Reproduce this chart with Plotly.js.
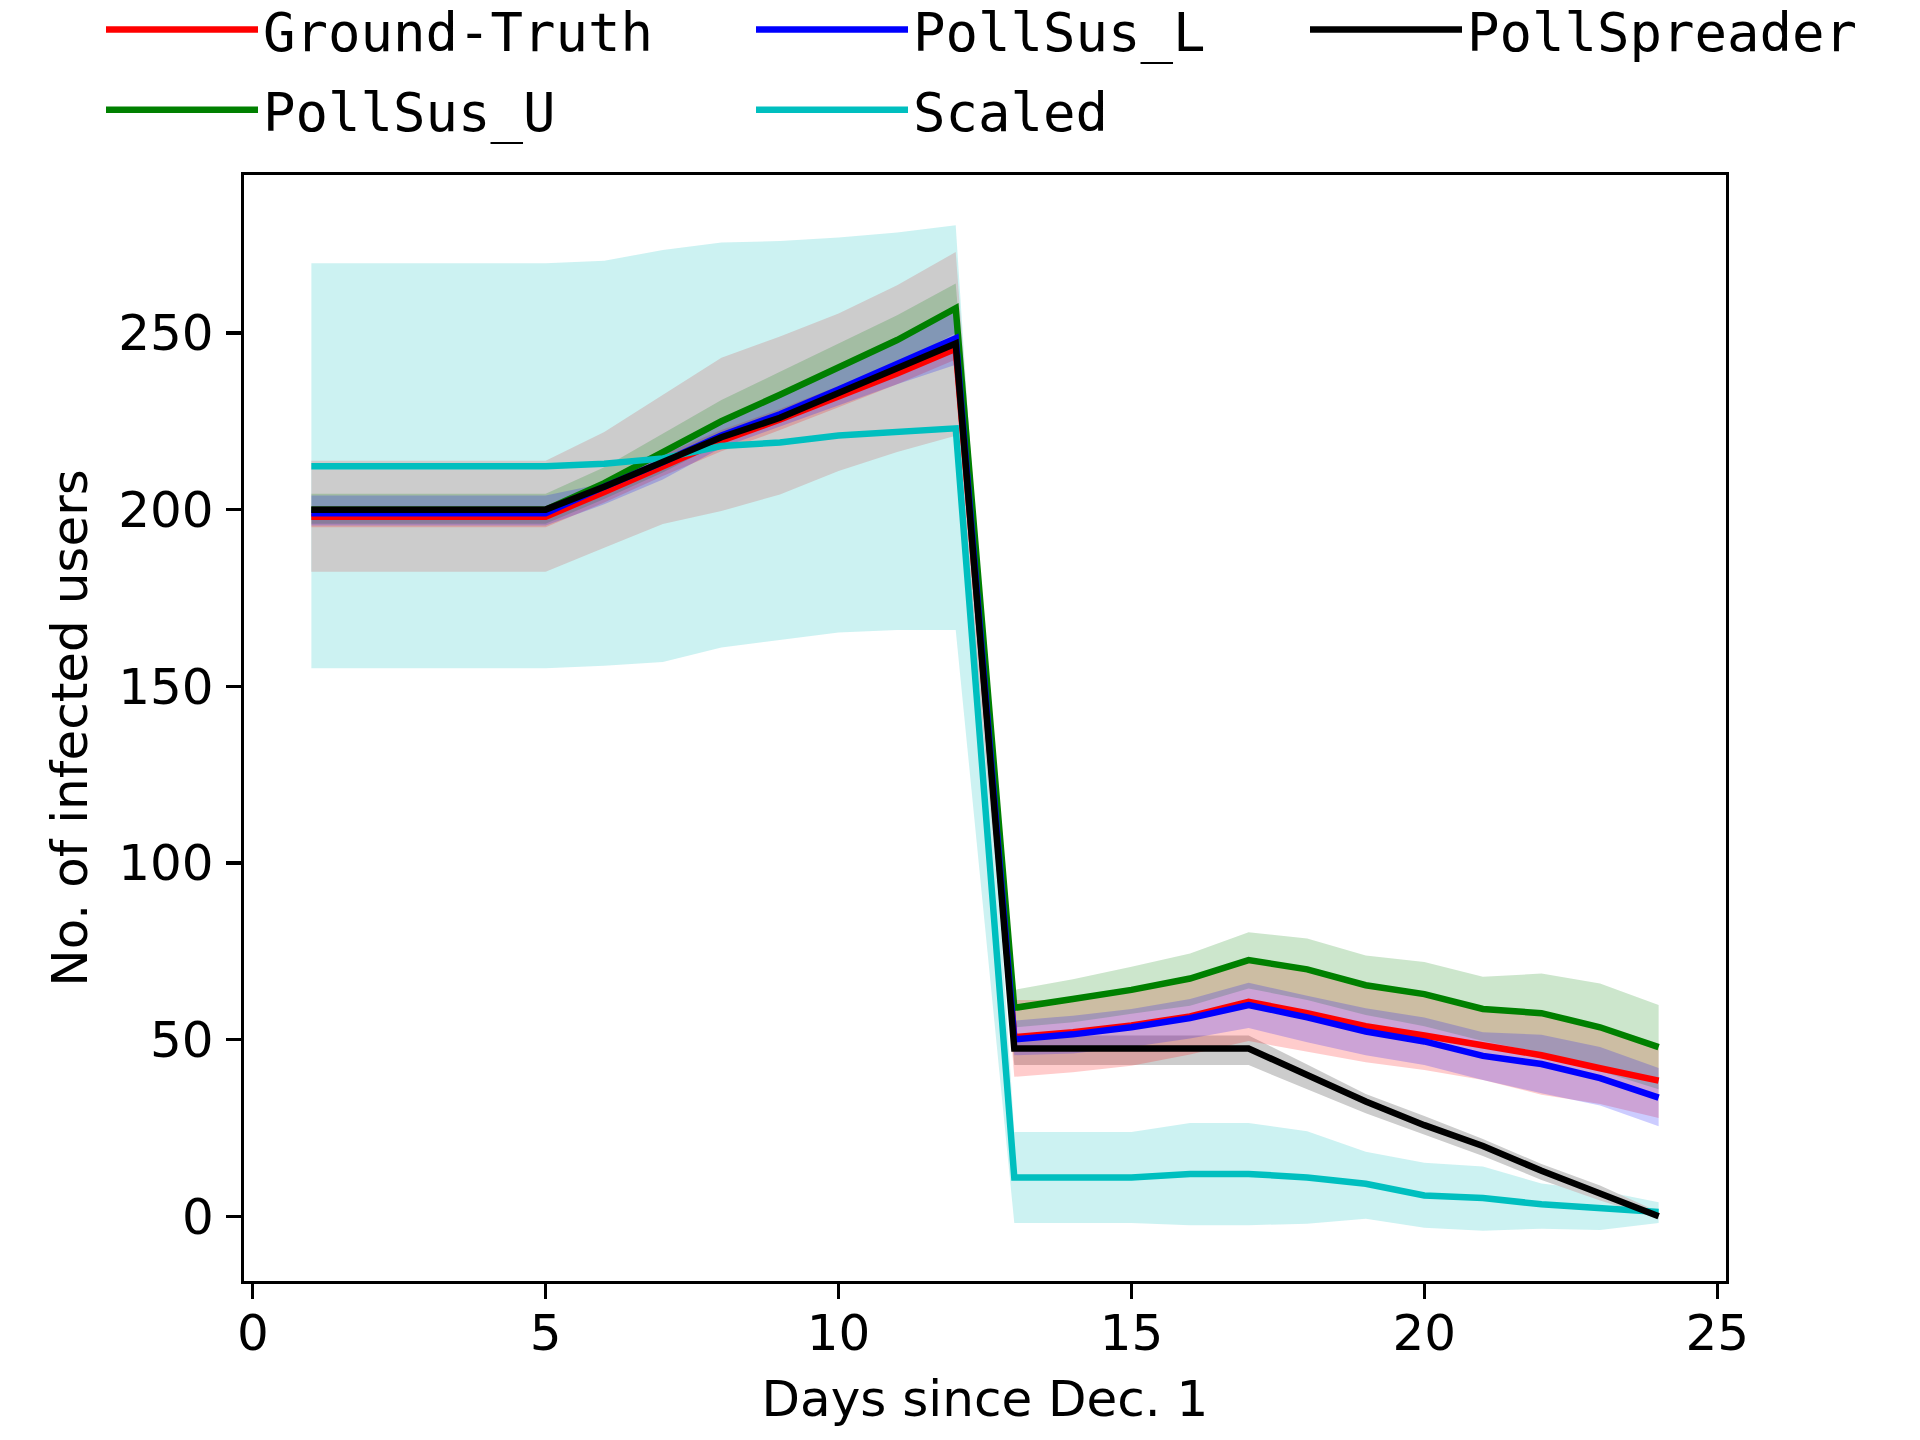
<!DOCTYPE html>
<html>
<head>
<meta charset="utf-8">
<script src="https://cdn.plot.ly/plotly-3.0.1.min.js"></script>
<style>html,body{margin:0;padding:0;background:#fff;}#chart{width:1920px;height:1440px;}</style>
</head>
<body>
<div id="chart"></div>
<script>
var days = [1,2,3,4,5,6,7,8,9,10,11,12,13,14,15,16,17,18,19,20,21,22,23,24];

var groundTruth    = [198,198,198,198,198,205,212.5,219.5,225.5,232,238.5,245.5, 50.7,52.1,54.0,56.6,60.7,57.5,53.8,51.2,48.6,45.6,41.9,38.4];
var groundTruthUp  = [201,201,201,201,201,208,215.5,222.5,228.5,235,241.5,248.5, 61.2,61.2,63.8,67.0,72.2,69.6,65.1,62.6,58.4,57.2,53.2,47.6];
var groundTruthLow = [195,195,195,195,195,202,209.5,216.5,222.5,229,235.5,242.5, 39.5,40.8,42.6,45.8,49.6,46.5,43.6,41.4,38.6,34.4,31.8,27.8];

var pollSusU    = [200,200,200,200,200,207.5,216,225,232.5,240.5,248,257, 59.0,61.5,64.1,67.3,72.5,69.9,65.4,62.9,58.7,57.5,53.5,47.9];
var pollSusUUp  = [204.5,204.5,204.5,204.5,204.5,212,221.5,231,239,247,255,264, 64.1,67.1,70.6,74.4,80.4,78.6,73.8,72.0,67.8,68.7,65.9,59.8];
var pollSusULow = [196,196,196,196,196,203,210.5,219,226,234,241,250, 53.5,54.9,57.3,59.6,64.5,61.2,57.0,53.8,49.6,46.3,41.1,36.0];

var pollSusL    = [199,199,199,199,199,206.5,213.5,221,227,234,241,248.5, 50.1,51.5,53.5,56.1,59.8,56.3,52.3,49.5,45.4,43.1,39.1,33.6];
var pollSusLUp  = [204,204,204,204,204,207.5,216,225,232,240,247.5,256, 55.4,56.8,58.7,61.5,66.1,62.4,58.9,56.3,52.1,51.4,47.9,42.0];
var pollSusLLow = [195.5,195.5,195.5,195.5,195.5,201.5,208.5,217.5,223.5,229.5,235.5,241, 45.6,46.1,47.9,50.3,53.3,49.3,45.6,42.8,38.6,34.8,31.4,25.5];

var scaled    = [212.3,212.3,212.3,212.3,212.3,213,214.5,218,219,221,222,223, 11.0,11.0,11.0,12.0,12.0,11.0,9.2,5.9,5.2,3.4,2.1,1.2];
var scaledUp  = [269.7,269.7,269.7,269.7,269.7,270.4,273.5,275.6,276,277,278.4,280.5, 23.9,23.9,23.9,26.4,26.4,24.1,18.3,15.2,14.1,9.3,7.3,4.0];
var scaledLow = [155.1,155.1,155.1,155.1,155.1,155.8,156.9,161,163.1,165.2,165.9,165.9, -1.9,-1.9,-1.9,-2.5,-2.5,-2.1,-0.7,-3.2,-4.1,-3.5,-3.9,-1.9];

var pollSpreader    = [200,200,200,200,200,206.5,213.5,220.5,226,233,240,247, 47.5,47.5,47.5,47.5,47.5,40.0,32.5,25.8,19.9,12.9,6.5,0];
var pollSpreaderUp  = [213.8,213.8,213.8,213.8,213.8,222,232.5,243,249,255.5,263.5,272.9, 51.2,51.2,51.2,51.2,51.2,43.0,34.6,28.4,21.9,14.8,8.7,1.2];
var pollSpreaderLow = [182.4,182.4,182.4,182.4,182.4,189.2,195.9,199.6,204.3,210.9,216.3,220.9, 42.8,42.8,42.8,42.8,42.8,36.0,29.2,23.2,17.1,10.3,4.5,-0.7];

var xTicks = [0,5,10,15,20,25];
var yTicks = [0,50,100,150,200,250];

function band(up, low, color) {
  return {
    x: days.concat(days.slice().reverse()),
    y: up.concat(low.slice().reverse()),
    type: 'scatter', mode: 'lines', fill: 'toself',
    fillcolor: color, line: {width: 0, color: 'rgba(0,0,0,0)'},
    showlegend: false, hoverinfo: 'skip'
  };
}
function line(y, color, name, legend, rank) {
  return {
    x: days, y: y, type: 'scatter', mode: 'lines', name: name,
    line: {color: color, width: 6.5}, legend: legend, legendrank: rank, legendgroup: name
  };
}

var traces = [
  band(scaledUp, scaledLow, 'rgba(0,191,191,0.2)'),
  band(pollSpreaderUp, pollSpreaderLow, 'rgb(204,204,204)'),
  band(groundTruthUp, groundTruthLow, 'rgba(255,0,0,0.2)'),
  band(pollSusUUp, pollSusULow, 'rgba(0,128,0,0.2)'),
  band(pollSusLUp, pollSusLLow, 'rgba(0,0,255,0.2)'),
  line(groundTruth, '#ff0000', 'Ground-Truth', 'legend', 1),
  line(pollSusU, '#008000', 'PollSus_U', 'legend', 2),
  line(pollSusL, '#0000ff', 'PollSus_L', 'legend2', 1),
  line(scaled, '#00bfbf', 'Scaled', 'legend2', 2),
  line(pollSpreader, '#000000', 'PollSpreader', 'legend3', 1)
];

var L = 244, T = 175, PW = 1482, PH = 1106;
var legFont = {family: 'DejaVu Sans Mono', size: 54, color: '#000'};
function leg(xpx) {
  return {xref: 'paper', yref: 'paper', x: (xpx - L)/PW, y: 1 + (T + 12)/PH, xanchor: 'left', yanchor: 'top',
          font: legFont, bgcolor: 'rgba(0,0,0,0)', borderwidth: 0, itemwidth: 152,
          traceorder: 'grouped', tracegroupgap: 7};
}

var axFont = {family: 'DejaVu Sans', size: 50, color: '#000'};
var layout = {
  width: 1920, height: 1440,
  margin: {l: L, r: 1920 - L - PW, t: T, b: 1440 - T - PH, pad: 0, autoexpand: false},
  paper_bgcolor: '#fff', plot_bgcolor: '#fff',
  showlegend: true,
  legend: leg(101), legend2: leg(751), legend3: leg(1305),
  xaxis: {
    range: [-0.15, 25.15], tickmode: 'array', tickvals: xTicks, ticktext: xTicks.map(String),
    ticks: 'outside', ticklen: 15, tickwidth: 3.3, tickcolor: '#000',
    showline: true, linewidth: 3.3, linecolor: '#000', mirror: true,
    showgrid: false, zeroline: false, tickfont: axFont, ticklabelstandoff: -9,
    title: {text: 'Days since Dec. 1', font: axFont, standoff: 20}
  },
  yaxis: {
    range: [-18.3, 294.7], tickmode: 'array', tickvals: yTicks, ticktext: yTicks.map(String),
    ticks: 'outside', ticklen: 15, tickwidth: 3.3, tickcolor: '#000',
    showline: true, linewidth: 3.3, linecolor: '#000', mirror: true,
    showgrid: false, zeroline: false, tickfont: axFont, ticklabelstandoff: 2,
    title: {text: 'No. of infected users', font: axFont, standoff: 15}
  }
};

Plotly.newPlot('chart', traces, layout, {staticPlot: true});
</script>
</body>
</html>
